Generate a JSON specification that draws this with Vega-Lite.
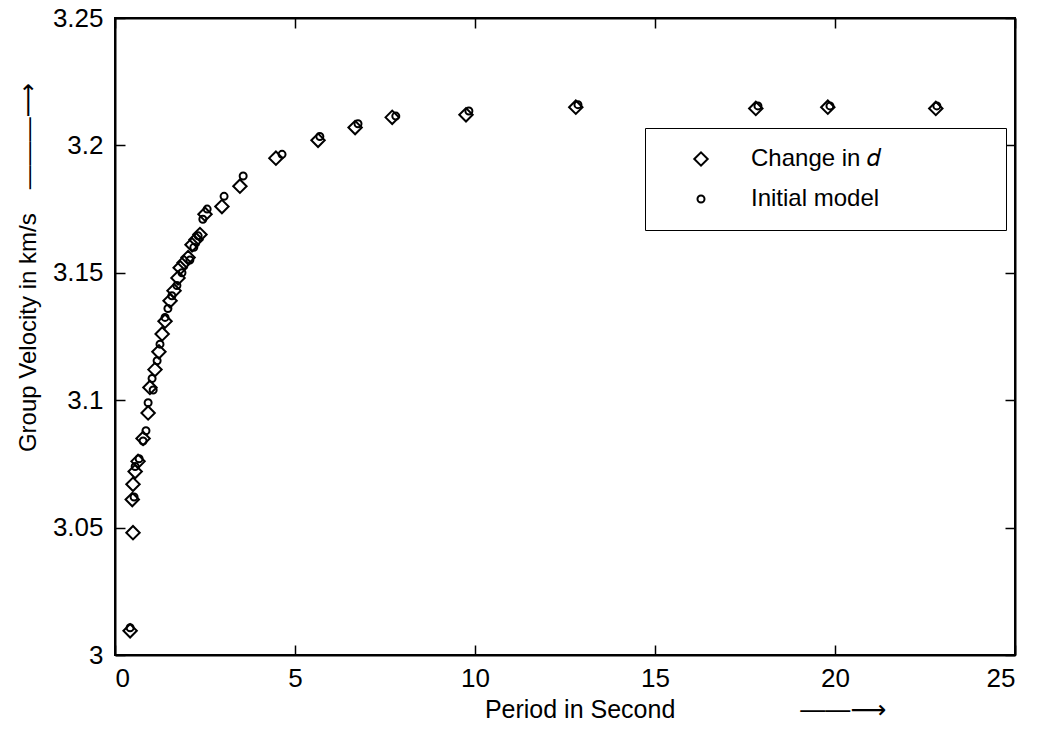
{
  "$schema": "https://vega.github.io/schema/vega-lite/v6.json",
  "autosize": "none",
  "width": 900,
  "height": 637,
  "padding": {"left": 115, "top": 18, "right": 26, "bottom": 80},
  "background": "white",
  "config": {
    "view": {"stroke": "black", "strokeWidth": 2},
    "font": "Liberation Sans, DejaVu Sans",
    "axis": {
      "domainColor": "black", "domainWidth": 2, "tickColor": "black", "tickWidth": 1.5,
      "grid": false, "labelColor": "black", "titleColor": "black",
      "labelFont": "Liberation Sans", "titleFont": "Liberation Sans, DejaVu Sans",
      "labelFontSize": 26, "titleFontSize": 24, "titleFontWeight": "normal"
    }
  },
  "data": {
    "values": [
      {"T": 0.42, "v": 3.0095, "series": "Change in d"},
      {"T": 0.5, "v": 3.048, "series": "Change in d"},
      {"T": 0.48, "v": 3.061, "series": "Change in d"},
      {"T": 0.5, "v": 3.067, "series": "Change in d"},
      {"T": 0.56, "v": 3.072, "series": "Change in d"},
      {"T": 0.64, "v": 3.076, "series": "Change in d"},
      {"T": 0.78, "v": 3.085, "series": "Change in d"},
      {"T": 0.92, "v": 3.095, "series": "Change in d"},
      {"T": 0.97, "v": 3.105, "series": "Change in d"},
      {"T": 1.11, "v": 3.112, "series": "Change in d"},
      {"T": 1.22, "v": 3.119, "series": "Change in d"},
      {"T": 1.31, "v": 3.126, "series": "Change in d"},
      {"T": 1.39, "v": 3.131, "series": "Change in d"},
      {"T": 1.53, "v": 3.139, "series": "Change in d"},
      {"T": 1.64, "v": 3.143, "series": "Change in d"},
      {"T": 1.75, "v": 3.148, "series": "Change in d"},
      {"T": 1.81, "v": 3.152, "series": "Change in d"},
      {"T": 1.92, "v": 3.154, "series": "Change in d"},
      {"T": 2.03, "v": 3.156, "series": "Change in d"},
      {"T": 2.14, "v": 3.161, "series": "Change in d"},
      {"T": 2.25, "v": 3.163, "series": "Change in d"},
      {"T": 2.36, "v": 3.165, "series": "Change in d"},
      {"T": 2.5, "v": 3.173, "series": "Change in d"},
      {"T": 2.97, "v": 3.176, "series": "Change in d"},
      {"T": 3.47, "v": 3.184, "series": "Change in d"},
      {"T": 4.47, "v": 3.195, "series": "Change in d"},
      {"T": 5.64, "v": 3.202, "series": "Change in d"},
      {"T": 6.67, "v": 3.207, "series": "Change in d"},
      {"T": 7.7, "v": 3.211, "series": "Change in d"},
      {"T": 9.75, "v": 3.212, "series": "Change in d"},
      {"T": 12.8, "v": 3.215, "series": "Change in d"},
      {"T": 17.8, "v": 3.2145, "series": "Change in d"},
      {"T": 19.8, "v": 3.215, "series": "Change in d"},
      {"T": 22.8, "v": 3.2145, "series": "Change in d"},
      {"T": 0.42, "v": 3.0107, "series": "Initial model"},
      {"T": 0.53, "v": 3.062, "series": "Initial model"},
      {"T": 0.56, "v": 3.074, "series": "Initial model"},
      {"T": 0.67, "v": 3.077, "series": "Initial model"},
      {"T": 0.78, "v": 3.084, "series": "Initial model"},
      {"T": 0.86, "v": 3.088, "series": "Initial model"},
      {"T": 1.03, "v": 3.1085, "series": "Initial model"},
      {"T": 0.92, "v": 3.099, "series": "Initial model"},
      {"T": 1.06, "v": 3.104, "series": "Initial model"},
      {"T": 1.17, "v": 3.1155, "series": "Initial model"},
      {"T": 1.25, "v": 3.122, "series": "Initial model"},
      {"T": 1.39, "v": 3.1325, "series": "Initial model"},
      {"T": 1.47, "v": 3.136, "series": "Initial model"},
      {"T": 1.58, "v": 3.141, "series": "Initial model"},
      {"T": 1.72, "v": 3.145, "series": "Initial model"},
      {"T": 1.86, "v": 3.150, "series": "Initial model"},
      {"T": 2.08, "v": 3.155, "series": "Initial model"},
      {"T": 2.19, "v": 3.160, "series": "Initial model"},
      {"T": 2.31, "v": 3.1645, "series": "Initial model"},
      {"T": 2.44, "v": 3.171, "series": "Initial model"},
      {"T": 2.56, "v": 3.175, "series": "Initial model"},
      {"T": 3.03, "v": 3.180, "series": "Initial model"},
      {"T": 3.56, "v": 3.188, "series": "Initial model"},
      {"T": 4.64, "v": 3.1965, "series": "Initial model"},
      {"T": 5.69, "v": 3.2035, "series": "Initial model"},
      {"T": 6.75, "v": 3.2085, "series": "Initial model"},
      {"T": 7.8, "v": 3.2115, "series": "Initial model"},
      {"T": 9.83, "v": 3.2135, "series": "Initial model"},
      {"T": 12.86, "v": 3.216, "series": "Initial model"},
      {"T": 17.86, "v": 3.2155, "series": "Initial model"},
      {"T": 19.86, "v": 3.2155, "series": "Initial model"},
      {"T": 22.83, "v": 3.2155, "series": "Initial model"}
    ]
  },
  "resolve": {"axis": {"x": "independent", "y": "independent"}},
  "layer": [
    {
      "mark": {"type": "point", "filled": false, "strokeWidth": 2, "color": "black", "opacity": 1},
      "encoding": {
        "x": {"field": "T", "type": "quantitative",
          "scale": {"domain": [0, 25], "nice": false, "zero": false},
          "axis": {"orient": "bottom", "values": [0, 5, 10, 15, 20, 25], "format": "d", "tickSize": -10, "labelPadding": 20,
            "title": "Period in Second\u2003\u2003\u2003\u2003\u2003\u2014\u2014\u27f6", "titleFontSize": 25, "titlePadding": 6, "titleX": 570}},
        "y": {"field": "v", "type": "quantitative",
          "scale": {"domain": [3, 3.25], "nice": false, "zero": false},
          "axis": {"orient": "left", "values": [3, 3.05, 3.1, 3.15, 3.2, 3.25], "format": "~g", "tickSize": -10, "labelPadding": 22,
            "title": "Group Velocity in km/s\u2003\u2014\u2014\u2014\u27f6", "titlePadding": 12, "titleY": 249}},
        "shape": {"field": "series", "type": "nominal",
          "scale": {"domain": ["Change in d", "Initial model"], "range": ["diamond", "circle"]},
          "legend": {"orient": "none", "legendX": 530, "legendY": 110, "title": null,
            "strokeColor": "black", "fillColor": "white", "padding": 19,
            "symbolOffset": 25, "labelOffset": 38, "rowPadding": 16, "labelLimit": 500,
            "labelFontSize": 24, "labelFont": "Liberation Sans, DejaVu Sans", "labelColor": "black",
            "symbolStrokeColor": "black", "symbolStrokeWidth": 2, "symbolFillColor": "white",
            "labelExpr": "datum.label == 'Change in d' ? 'Change in \ud835\udc51\u2800\u2800\u2800\u2800\u2800\u2800' : 'Initial model'"}},
        "size": {"field": "series", "type": "nominal",
          "scale": {"domain": ["Change in d", "Initial model"], "range": [180, 49]}}
      }
    },
    {
      "mark": {"type": "point", "opacity": 0},
      "encoding": {
        "x": {"field": "T", "type": "quantitative",
          "scale": {"domain": [0, 25], "nice": false, "zero": false},
          "axis": {"orient": "top", "values": [0, 5, 10, 15, 20, 25], "labels": false, "title": null, "tickSize": -10, "domainWidth": 2}},
        "y": {"field": "v", "type": "quantitative",
          "scale": {"domain": [3, 3.25], "nice": false, "zero": false},
          "axis": {"orient": "right", "values": [3, 3.05, 3.1, 3.15, 3.2, 3.25], "labels": false, "title": null, "tickSize": -10}}
      }
    }
  ]
}
